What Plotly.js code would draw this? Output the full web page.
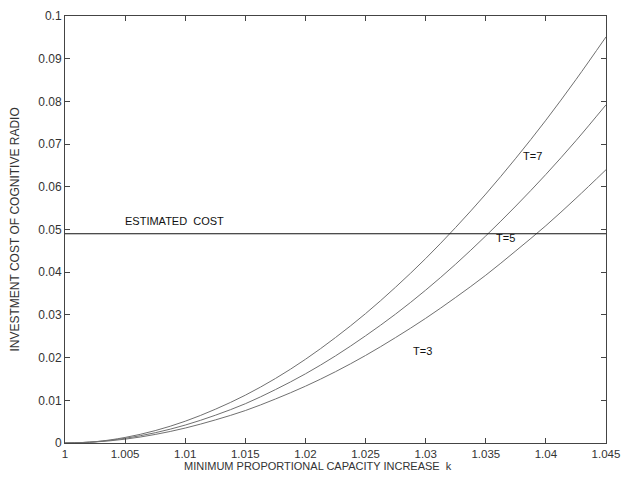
<!DOCTYPE html>
<html>
<head>
<meta charset="utf-8">
<script src="https://cdn.plot.ly/plotly-3.0.1.min.js"></script>
<style>html,body{margin:0;padding:0;background:#fff;}#chart{width:622px;height:482px;}</style>
</head>
<body>
<div id="chart"></div>
<script>
// k values (minimum proportional capacity increase)
var kValues = [1.0000, 1.0025, 1.0050, 1.0075, 1.0100, 1.0125, 1.0150, 1.0175, 1.0200, 1.0225,
               1.0250, 1.0275, 1.0300, 1.0325, 1.0350, 1.0375, 1.0400, 1.0425, 1.0450];
// investment cost curves
var costT7 = [0, 0.0003, 0.0013, 0.0029, 0.0051, 0.0079, 0.0112, 0.0151, 0.0196, 0.0247,
              0.0303, 0.0365, 0.0432, 0.0505, 0.0583, 0.0667, 0.0756, 0.0851, 0.0951];
var costT5 = [0, 0.00028, 0.0011, 0.0024, 0.0042, 0.0065, 0.0092, 0.0125, 0.0162, 0.0204,
              0.0251, 0.0302, 0.0358, 0.0419, 0.0485, 0.0555, 0.0629, 0.0708, 0.0792];
var costT3 = [0, 0.00024, 0.0009, 0.0020, 0.0035, 0.0054, 0.0076, 0.0103, 0.0133, 0.0167,
              0.0205, 0.0247, 0.0292, 0.0341, 0.0393, 0.0450, 0.0509, 0.0573, 0.0640];
var estimatedCost = 0.049;
var xTickVals = [1, 1.005, 1.01, 1.015, 1.02, 1.025, 1.03, 1.035, 1.04, 1.045];
var xTickText = ["1", "1.005", "1.01", "1.015", "1.02", "1.025", "1.03", "1.035", "1.04", "1.045"];
var yTickVals = [0, 0.01, 0.02, 0.03, 0.04, 0.05, 0.06, 0.07, 0.08, 0.09, 0.1];
var yTickText = ["0", "0.01", "0.02", "0.03", "0.04", "0.05", "0.06", "0.07", "0.08", "0.09", "0.1"];
var curveLabels = ["T=7", "T=5", "T=3"];
var labelK = [1.0389, 1.0366, 1.0297];
var labelY = [0.0672, 0.0480, 0.0215];
var xTitle = 'MINIMUM PROPORTIONAL CAPACITY INCREASE&nbsp;&nbsp;k';
var yTitle = 'INVESTMENT COST OF COGNITIVE RADIO';

var curveStyle = {color: '#707070', width: 1, shape: 'spline'};
var traces = [
  {x: kValues, y: costT7, mode: 'lines', line: curveStyle, hoverinfo: 'skip'},
  {x: kValues, y: costT5, mode: 'lines', line: curveStyle, hoverinfo: 'skip'},
  {x: kValues, y: costT3, mode: 'lines', line: curveStyle, hoverinfo: 'skip'},
  {x: [kValues[0], kValues[kValues.length - 1]], y: [estimatedCost, estimatedCost], mode: 'lines',
   line: {color: '#111', width: 1.2}, hoverinfo: 'skip'}
];

var fam = 'Liberation Sans, Arial, sans-serif';
var annotations = curveLabels.map(function (t, i) {
  return {x: labelK[i], y: labelY[i], text: t, showarrow: false, xanchor: 'center', yanchor: 'middle',
          font: {family: fam, size: 11, color: '#111'}};
});
annotations.push({x: 1.0048, y: 0.0521, text: 'ESTIMATED&nbsp;&nbsp;COST', showarrow: false,
                  xanchor: 'left', yanchor: 'middle', font: {family: fam, size: 11, color: '#111'}});
// axis titles placed as in the reference
annotations.push({xref: 'paper', yref: 'paper', x: 0.468, y: 0, yshift: -23, text: xTitle,
                  showarrow: false, xanchor: 'center', yanchor: 'middle',
                  font: {family: fam, size: 11, color: '#333'}});
annotations.push({xref: 'paper', yref: 'paper', x: 0, xshift: -51, y: 0.5, text: yTitle,
                  textangle: -90, showarrow: false, xanchor: 'center', yanchor: 'middle',
                  font: {family: fam, size: 12, color: '#333'}});

var axisCommon = {
  showgrid: false, zeroline: false, showline: true, linecolor: '#444', linewidth: 1,
  mirror: 'ticks', ticks: 'inside', ticklen: 5, tickwidth: 1, tickcolor: '#444'
};

var layout = {
  width: 622, height: 482,
  margin: {l: 65, r: 16, t: 16, b: 39, pad: 0},
  paper_bgcolor: '#fff', plot_bgcolor: '#fff',
  showlegend: false,
  font: {family: fam, size: 11, color: '#222'},
  xaxis: Object.assign({}, axisCommon, {
    range: [1, 1.045], tickmode: 'array', tickvals: xTickVals, ticktext: xTickText,
    tickfont: {family: fam, size: 11.5, color: '#333'}
  }),
  yaxis: Object.assign({}, axisCommon, {
    range: [0, 0.1], tickmode: 'array', tickvals: yTickVals, ticktext: yTickText,
    tickfont: {family: fam, size: 12, color: '#333'}
  }),
  annotations: annotations
};

Plotly.newPlot('chart', traces, layout, {staticPlot: true, displayModeBar: false});
</script>
</body>
</html>
